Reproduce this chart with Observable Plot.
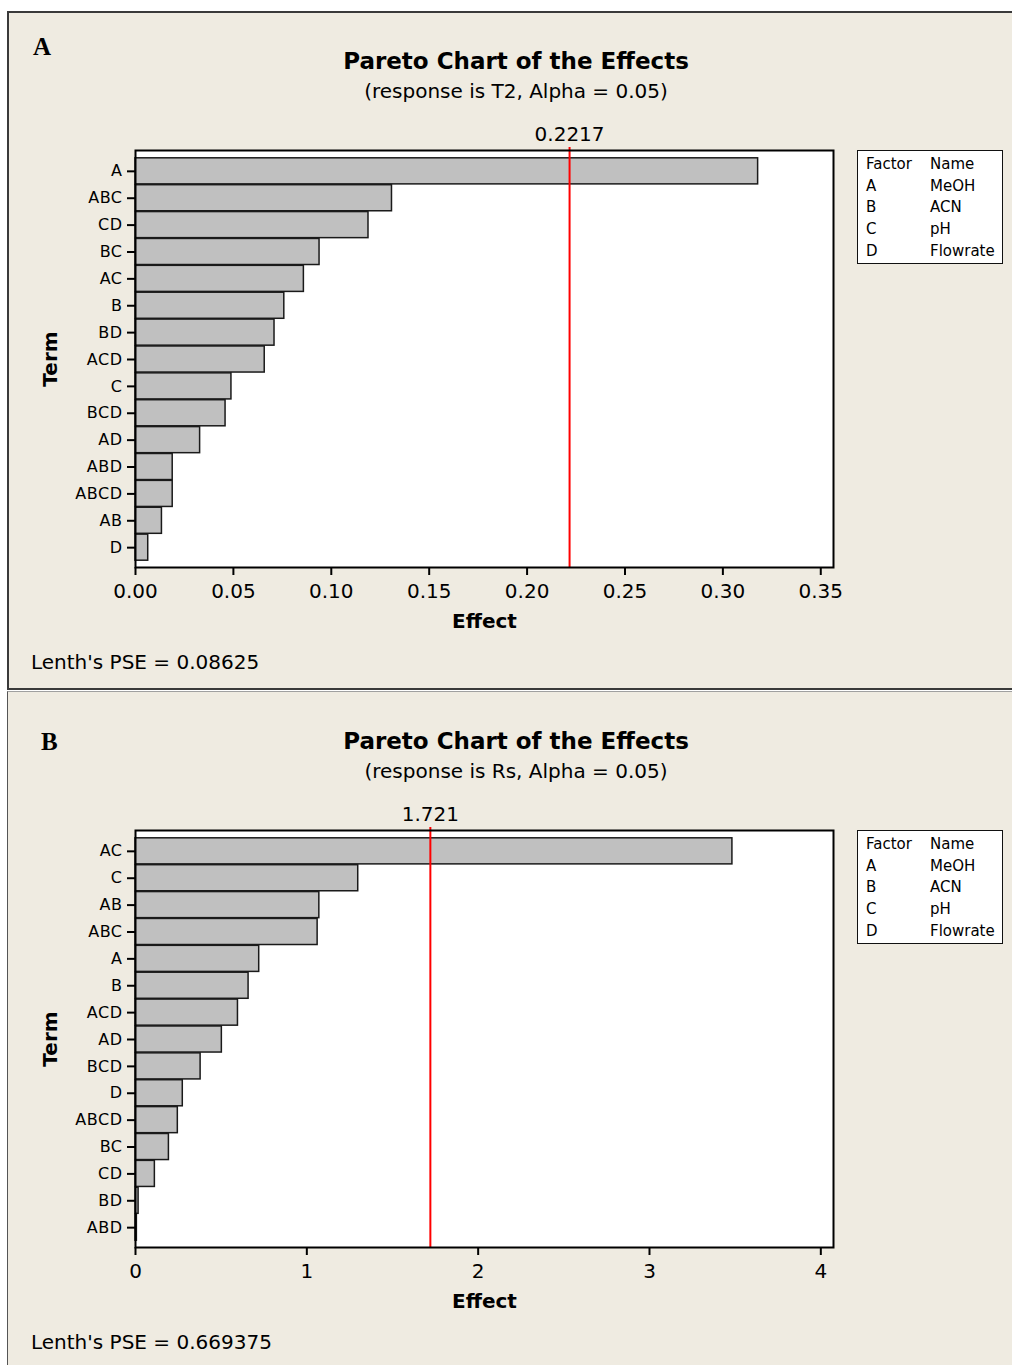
<!DOCTYPE html>
<html>
<head>
<meta charset="utf-8">
<script src="https://cdn.jsdelivr.net/npm/d3@7"></script>
<script src="https://cdn.jsdelivr.net/npm/@observablehq/plot@0.6"></script>
<style>
  html, body { margin: 0; padding: 0; background: #ffffff; }
  #root { position: relative; width: 1012px; height: 1365px; overflow: hidden; background: #ffffff; }
  .panel { position: absolute; background: #efebe1; box-sizing: border-box; }
  .abs { position: absolute; white-space: nowrap; }
  .title { font-family: "DejaVu Sans", Verdana, sans-serif; font-weight: bold; font-size: 23px; line-height: 23px; text-align: center; width: 1032px; left: 0; color: #000; }
  .subtitle { font-family: "DejaVu Sans", Verdana, sans-serif; font-size: 20px; line-height: 20px; text-align: center; width: 1032px; left: 0; color: #000; }
  .tag { font-family: "Liberation Serif", "Times New Roman", serif; font-weight: bold; font-size: 25px; line-height: 25px; color: #000; }
  .pse { font-family: "DejaVu Sans", Verdana, sans-serif; font-size: 20px; line-height: 20px; color: #000; }
  .legend { background: #ffffff; border: 1.5px solid #111; box-sizing: border-box; width: 146px; height: 114px;
            font-family: "DejaVu Sans", Verdana, sans-serif; font-size: 15px; line-height: 21.7px; padding: 3px 0 0 8px; color: #000; }
  .legend .row { display: flex; }
  .legend .c1 { width: 64px; }
  .plotwrap { position: absolute; left: 0; }
  .plotwrap g[aria-label="y-axis tick label"] text { letter-spacing: 0.5px; }
</style>
</head>
<body>
<div id="root"></div>
<script>
// ---------- data ----------
const termsA = ["A","ABC","CD","BC","AC","B","BD","ACD","C","BCD","AD","ABD","ABCD","AB","D"];
const effectsA = [0.318, 0.131, 0.119, 0.094, 0.086, 0.076, 0.071, 0.066, 0.049, 0.046, 0.033, 0.019, 0.019, 0.0135, 0.0065];
const thresholdA = 0.2217;
const pseA = "0.08625";
const ticksA = [0, 0.05, 0.10, 0.15, 0.20, 0.25, 0.30, 0.35];
const xMaxA = 0.3565;

const termsB = ["AC","C","AB","ABC","A","B","ACD","AD","BCD","D","ABCD","BC","CD","BD","ABD"];
const effectsB = [3.484, 1.300, 1.073, 1.063, 0.722, 0.660, 0.598, 0.504, 0.380, 0.276, 0.247, 0.195, 0.113, 0.018, 0.008];
const thresholdB = 1.721;
const pseB = "0.669375";
const ticksB = [0, 1, 2, 3, 4];
const xMaxB = 4.074;

const factors = ["A","B","C","D"];
const factorNames = ["MeOH","ACN","pH","Flowrate"];

const titleText = "Pareto Chart of the Effects";
const subtitleA = "(response is T2, Alpha = 0.05)";
const subtitleB = "(response is Rs, Alpha = 0.05)";

// ---------- helpers ----------
const root = document.getElementById("root");
function el(cls, css, text) {
  const d = document.createElement("div");
  d.className = cls;
  Object.assign(d.style, css);
  if (text != null) d.textContent = text;
  root.appendChild(d);
  return d;
}

function chart(terms, effects, threshold, thrLabel, ticks, fmt, xMax) {
  const data = terms.map((t, i) => ({term: t, effect: effects[i]}));
  return Plot.plot({
    width: 850, height: 530,
    marginLeft: 135, marginRight: 17, marginTop: 35, marginBottom: 78,
    style: {background: "transparent", fontFamily: "'DejaVu Sans', Verdana, sans-serif", color: "black", overflow: "visible"},
    x: {domain: [0, xMax]},
    y: {domain: terms, range: [42, 446], padding: 0.03, round: false},
    marks: [
      Plot.frame({fill: "white", stroke: null}),
      Plot.barX(data, {x: "effect", y: "term", fill: "#c0c0c0", stroke: "#1a1a1a", strokeWidth: 1.5}),
      Plot.ruleX([threshold], {stroke: "#ff0000", strokeWidth: 2, insetTop: -3}),
      Plot.frame({stroke: "black", strokeWidth: 2}),
      Plot.axisX({ticks: ticks, tickFormat: fmt, tickSize: 8, tickPadding: 8, fontSize: 20, strokeWidth: 2, label: null}),
      Plot.axisY({tickSize: 8, tickPadding: 5, fontSize: 16, strokeWidth: 2, label: null}),
      Plot.text([threshold], {x: d => d, text: () => thrLabel, frameAnchor: "top", lineAnchor: "middle", textAnchor: "middle", dy: -16, fontSize: 20}),
      Plot.text(["Effect"], {frameAnchor: "bottom", lineAnchor: "middle", textAnchor: "middle", dy: 54, fontSize: 20, fontWeight: "bold"}),
      Plot.text(["Term"], {frameAnchor: "left", lineAnchor: "middle", textAnchor: "middle", dx: -85, rotate: -90, fontSize: 20, fontWeight: "bold"})
    ]
  });
}

function legend(top) {
  const box = el("abs legend", {left: "857px", top: top + "px"});
  const head = document.createElement("div");
  head.className = "row";
  head.innerHTML = '<span class="c1">Factor</span><span>Name</span>';
  box.appendChild(head);
  factors.forEach((f, i) => {
    const r = document.createElement("div");
    r.className = "row";
    const a = document.createElement("span"); a.className = "c1"; a.textContent = f;
    const b = document.createElement("span"); b.textContent = factorNames[i];
    r.appendChild(a); r.appendChild(b);
    box.appendChild(r);
  });
}

// ---------- panels ----------
el("panel", {left: "7px", top: "11px", width: "1010px", height: "679px", border: "2px solid #3a3a3a"});
el("panel", {left: "7px", top: "691px", width: "1010px", height: "680px", borderTop: "1px solid #a0a0a0", borderLeft: "1px solid #555"});

// Panel A
el("abs tag", {left: "33px", top: "34px"}, "A");
el("abs title", {top: "50px"}, titleText);
el("abs subtitle", {top: "81px"}, subtitleA);
const wA = el("plotwrap", {top: "115px"});
wA.appendChild(chart(termsA, effectsA, thresholdA, String(thresholdA), ticksA, d3.format(".2f"), xMaxA));
legend(150);
el("abs pse", {left: "31px", top: "652px"}, "Lenth's PSE = " + pseA);

// Panel B
el("abs tag", {left: "41px", top: "729px"}, "B");
el("abs title", {top: "730px"}, titleText);
el("abs subtitle", {top: "761px"}, subtitleB);
const wB = el("plotwrap", {top: "795px"});
wB.appendChild(chart(termsB, effectsB, thresholdB, String(thresholdB), ticksB, d3.format("d"), xMaxB));
legend(830);
el("abs pse", {left: "31px", top: "1332px"}, "Lenth's PSE = " + pseB);
</script>
</body>
</html>
